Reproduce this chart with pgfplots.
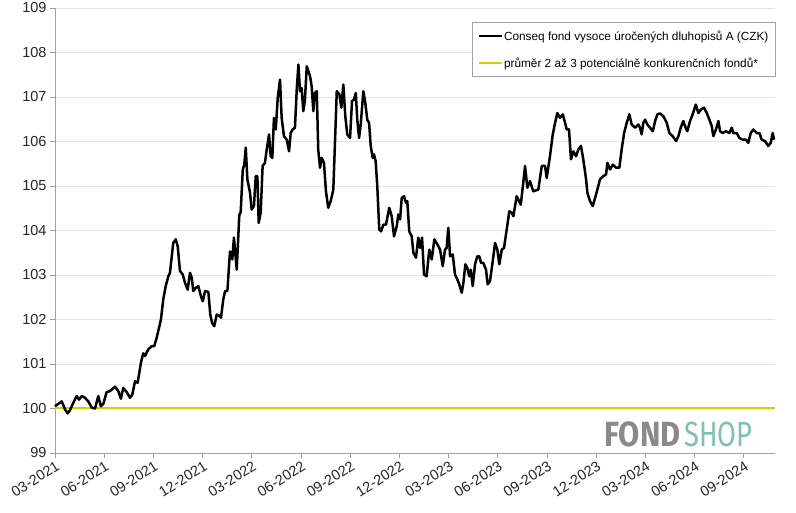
\documentclass[border=0pt]{standalone}
\usepackage{fontspec}
\setmainfont{Liberation Sans}
\newfontfamily\logofont{Fira Sans}
\usepackage{pgfplots}
\pgfplotsset{compat=1.18}
\definecolor{fundblack}{RGB}{0,0,0}
\definecolor{avgyellow}{RGB}{204,212,0}
\definecolor{gridgray}{RGB}{228,228,228}
\definecolor{axisgray}{RGB}{160,160,160}
\definecolor{logogray}{RGB}{138,138,138}
\definecolor{logoteal}{RGB}{128,192,176}
\begin{document}
\begin{tikzpicture}
\useasboundingbox (0,0) rectangle (796pt,513pt);
\begin{axis}[
  at={(55pt,60pt)}, anchor=south west,
  scale only axis, width=720pt, height=445pt,
  xmin=0, xmax=43.9, ymin=99, ymax=109,
  axis x line*=bottom, axis y line*=left,
  axis line style={axisgray, line width=0.8pt},
  ytick={99,100,...,109},
  xtick={0,3,...,42},
  xticklabels={03-2021,06-2021,09-2021,12-2021,03-2022,06-2022,09-2022,12-2022,03-2023,06-2023,09-2023,12-2023,03-2024,06-2024,09-2024},
  x tick label style={rotate=32, anchor=north east, inner sep=1pt, yshift=-1pt},
  tick align=outside, major tick length=5pt,
  tick style={axisgray, line width=0.8pt},
  ymajorgrids, grid style={gridgray, line width=0.8pt},
  /pgf/number format/assume math mode=true,
  ticklabel style={font=\fontsize{14.5}{16}\selectfont, text=black!85},
  legend style={at={(1.001,0.968)}, anchor=north east, draw=axisgray, line width=0.6pt,
    font=\fontsize{11.8}{13}\selectfont, row sep=12pt, inner xsep=6pt, inner ysep=6pt,
    nodes={inner xsep=1pt}},
  legend cell align=left,
  legend image code/.code={\draw[#1, line width=2.2pt] (0pt,0pt) -- (23pt,0pt);},
  clip=false,
]
\addplot[avgyellow, line width=2pt, forget plot] coordinates {(0,100) (43.9,100)};
\addplot[fundblack, line width=2.5pt, line join=round] coordinates {
(0,100.05) (0.41,100.16) (0.61,99.98) (0.77,99.89) (0.91,99.96) (1.12,100.13) (1.32,100.28) (1.46,100.20)
(1.63,100.28) (1.83,100.24) (2.03,100.16) (2.24,100.02) (2.44,100.00) (2.64,100.28) (2.80,100.05) (2.95,100.11)
(3.15,100.37) (3.35,100.39) (3.66,100.49) (3.86,100.39) (4.02,100.22) (4.16,100.46) (4.37,100.37) (4.57,100.24)
(4.71,100.31) (4.88,100.61) (5.04,100.58) (5.24,101.03) (5.38,101.24) (5.49,101.18) (5.69,101.33) (5.90,101.40)
(6.05,101.40) (6.20,101.59) (6.34,101.81) (6.46,102.00) (6.60,102.45) (6.75,102.75) (6.91,102.97) (7.01,103.05)
(7.12,103.42) (7.21,103.72) (7.36,103.80) (7.48,103.65) (7.62,103.09) (7.79,103.01) (7.93,102.82) (8.09,102.67)
(8.23,103.05) (8.34,102.94) (8.43,102.64) (8.58,102.71) (8.74,102.75) (8.90,102.52) (9.01,102.41) (9.15,102.64)
(9.35,102.62) (9.47,102.10) (9.59,101.91) (9.71,101.85) (9.86,102.11) (10.00,102.09) (10.12,102.04) (10.26,102.45)
(10.37,102.64) (10.51,102.64) (10.67,103.53) (10.81,103.35) (10.91,103.84) (11.08,103.12) (11.24,104.36) (11.32,104.40)
(11.45,105.37) (11.54,105.48) (11.63,105.86) (11.73,105.15) (11.89,104.85) (11.99,104.47) (12.13,104.55) (12.24,105.22)
(12.34,105.22) (12.42,104.17) (12.54,104.40) (12.66,105.45) (12.80,105.52) (12.91,105.82) (13.05,106.16) (13.15,105.67)
(13.25,105.63) (13.35,106.53) (13.46,106.27) (13.58,106.98) (13.72,107.39) (13.82,106.53) (13.96,106.12) (14.13,106.04)
(14.27,105.78) (14.37,106.19) (14.49,106.27) (14.63,106.31) (14.74,107.17) (14.84,107.73) (14.94,107.13) (15.04,107.20)
(15.14,106.68) (15.24,106.94) (15.35,107.69) (15.45,107.58) (15.55,107.47) (15.65,107.24) (15.75,106.68) (15.85,107.09)
(15.96,107.13) (16.05,105.82) (16.16,105.41) (16.26,105.63) (16.40,105.52) (16.52,104.88) (16.66,104.51) (16.81,104.66)
(16.97,104.92) (17.18,107.13) (17.34,107.06) (17.46,106.76) (17.58,107.28) (17.70,106.57) (17.82,106.16) (17.99,106.08)
(18.11,106.91) (18.23,106.94) (18.34,107.09) (18.43,106.49) (18.54,106.08) (18.64,106.38) (18.80,107.13) (18.92,106.87)
(19.04,106.49) (19.15,106.42) (19.25,105.90) (19.37,105.63) (19.45,105.71) (19.55,105.56) (19.65,105.00) (19.77,104.02)
(19.88,103.98) (20.02,104.13) (20.18,104.13) (20.38,104.51) (20.53,104.32) (20.67,103.87) (20.84,104.10) (20.93,104.36)
(21.04,104.25) (21.14,104.73) (21.28,104.77) (21.40,104.62) (21.48,104.66) (21.60,103.98) (21.75,103.87) (21.85,103.50)
(22.01,103.39) (22.15,103.84) (22.26,103.61) (22.38,103.84) (22.50,103.01) (22.66,102.97) (22.82,103.57) (22.97,103.35)
(23.13,103.80) (23.31,103.69) (23.48,103.57) (23.64,103.20) (23.78,103.57) (23.88,103.61) (23.98,104.06) (24.09,103.42)
(24.25,103.46) (24.39,103.01) (24.53,102.90) (24.65,102.79) (24.80,102.60) (24.90,102.82) (25.02,103.24) (25.14,103.16)
(25.26,102.97) (25.35,103.12) (25.47,102.75) (25.61,103.24) (25.75,103.42) (25.87,103.42) (25.98,103.27) (26.12,103.27)
(26.28,103.12) (26.38,102.79) (26.52,102.86) (26.69,103.31) (26.83,103.72) (26.97,103.57) (27.09,103.24) (27.24,103.57)
(27.38,103.61) (27.54,104.02) (27.70,104.43) (27.85,104.40) (27.95,104.32) (28.15,104.77) (28.40,104.58) (28.55,105.07)
(28.66,105.45) (28.80,104.96) (28.96,105.11) (29.16,104.88) (29.47,104.92) (29.68,105.45) (29.88,105.45) (29.98,105.18)
(30.18,105.67) (30.35,106.16) (30.49,106.42) (30.63,106.64) (30.79,106.53) (30.96,106.61) (31.10,106.42) (31.20,106.27)
(31.34,106.27) (31.46,105.60) (31.60,105.78) (31.77,105.67) (31.91,105.82) (32.07,105.90) (32.21,105.60) (32.38,105.15)
(32.46,104.85) (32.62,104.66) (32.79,104.55) (32.93,104.73) (33.07,104.92) (33.23,105.15) (33.43,105.22) (33.60,105.26)
(33.68,105.52) (33.84,105.37) (34.01,105.48) (34.21,105.41) (34.41,105.41) (34.55,105.82) (34.70,106.19) (34.86,106.42)
(35.02,106.61) (35.16,106.38) (35.37,106.31) (35.57,106.38) (35.67,106.31) (35.77,106.16) (35.87,106.42) (35.98,106.49)
(36.12,106.38) (36.28,106.31) (36.45,106.23) (36.59,106.46) (36.73,106.61) (36.89,106.63) (37.09,106.57) (37.30,106.42)
(37.46,106.19) (37.66,106.12) (37.87,106.01) (38.01,106.12) (38.15,106.31) (38.31,106.46) (38.41,106.35) (38.55,106.23)
(38.72,106.46) (38.88,106.61) (39.07,106.83) (39.23,106.64) (39.39,106.72) (39.57,106.76) (39.74,106.64) (39.90,106.49)
(40.04,106.35) (40.14,106.12) (40.30,106.27) (40.45,106.46) (40.55,106.23) (40.71,106.19) (40.91,106.23) (41.12,106.19)
(41.26,106.31) (41.36,106.19) (41.57,106.19) (41.73,106.08) (41.93,106.04) (42.13,106.04) (42.27,105.97) (42.42,106.19)
(42.58,106.27) (42.79,106.19) (42.95,106.19) (43.09,106.04) (43.29,106.01) (43.49,105.90) (43.64,105.97) (43.76,106.19)
(43.84,106.04)
};
\addlegendentry{Conseq fond vysoce úročených dluhopisů A (CZK)}
\addlegendimage{avgyellow, line width=2.2pt}
\addlegendentry{průměr 2 až 3 potenciálně konkurenčních fondů*}
\node[anchor=base east, inner sep=0pt] at (rel axis cs:0.972,0.0135)
  {\logofont\fontsize{35}{35}\selectfont\color{logogray}\scalebox{0.88}[1]{\bfseries FOND}\hspace{4pt}\color{logoteal}\scalebox{0.78}[1]{SHOP}{\color{gridgray}\fontsize{8}{8}\selectfont.}};
\end{axis}
\end{tikzpicture}
\end{document}
